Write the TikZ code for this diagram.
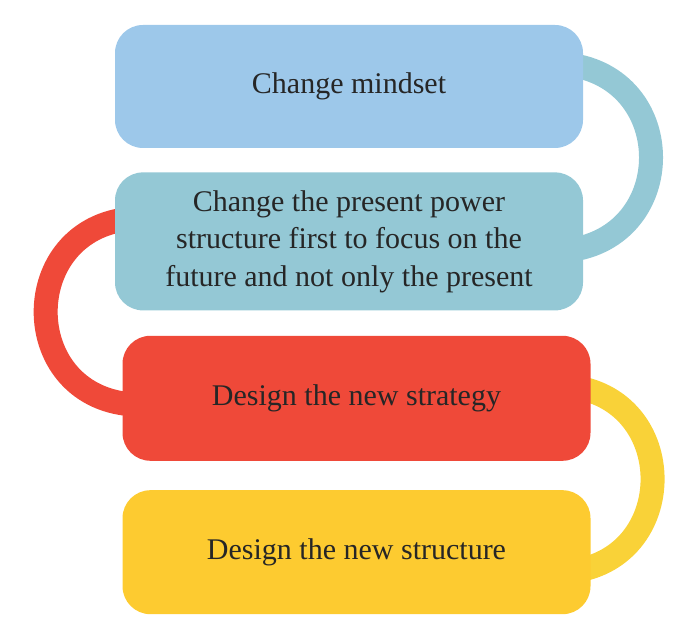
\documentclass[tikz,border=0pt]{standalone}
\usepackage{fontspec}
\setmainfont{Liberation Serif}
\usetikzlibrary{positioning,calc,backgrounds}
\definecolor{stepblue}{HTML}{9DC8EA}
\definecolor{stepteal}{HTML}{94C8D5}
\definecolor{stepred}{HTML}{EF4939}
\definecolor{stepyellow}{HTML}{FDCB30}
\definecolor{bandyellow}{HTML}{F9D238}
\definecolor{inktext}{HTML}{262626}
\tikzset{
	flow/.style={x=1pt,y=1pt,node distance=24pt},
	stage/.style={rounded corners=28pt,inner sep=0pt,minimum width=468pt,
		minimum height=124pt,align=center,text=inktext,
		font=\fontsize{30}{37.5}\selectfont},
	band/.style={line width=24pt}
}

\begin{document}
\begin{tikzpicture}[flow]
	\useasboundingbox (0,0) rectangle (696,644);
	
	\node[stage, fill=stepblue, minimum height=123pt] (mindset) at (349,557.5) {Change mindset};
	\node[stage, fill=stepteal, minimum height=138pt] (power) [below=24pt of mindset] {Change the present power\\structure first to focus on the\\future and not only the present};
	\node[stage, fill=stepred, minimum height=125pt] (strategy) [below=25pt of power, xshift=7.5pt] {Design the new strategy};
	\node[stage, fill=stepyellow] (structure) [below=29pt of strategy] {Design the new structure};
	
	\begin{scope}[on background layer]
		\draw[band, stepteal] ($(mindset.east)+(-9,21)$) to[out=-10,in=10,distance=104pt] ($(power.east)+(-9,-8)$);
		\draw[band, stepred] ($(power.west)+(16,22.6)$) to[out=185,in=175,distance=113.6pt] ($(strategy.west)+(8,-6)$);
		\draw[band, bandyellow] ($(strategy.east)+(-23,12)$) to[out=-5,in=5,distance=113.6pt] ($(structure.east)+(-23,-19.6)$);
	\end{scope}
\end{tikzpicture}
\end{document}
